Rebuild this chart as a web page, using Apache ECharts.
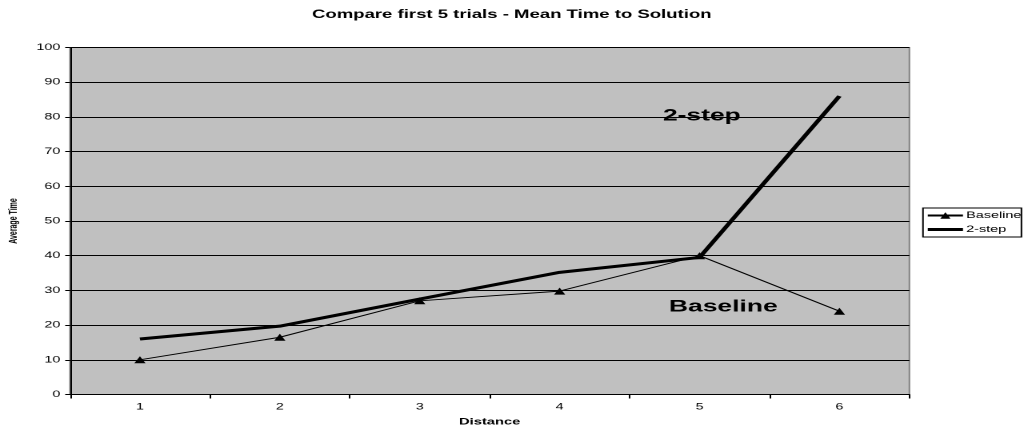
<!DOCTYPE html>
<html><head><meta charset="utf-8">
<script src="https://cdn.jsdelivr.net/npm/echarts@6/dist/echarts.min.js"></script>
<style>
html,body{margin:0;padding:0;background:#fff;overflow:hidden}
#c{width:644.375px;height:436px;transform:scaleX(1.6);transform-origin:0 0}
</style>
</head><body><div id="c"></div>
<script>
const categories = ['1','2','3','4','5','6'];
const baseline = [10, 16.5, 27, 29.8, 40, 24];
const twoStep = [16, 19.7, 27.5, 35.2, 39.5, 86];
const yTicks = {min: 0, max: 100, interval: 10};

const S = 1.6; // horizontal stretch of the original picture
const chart = echarts.init(document.getElementById('c'), null, {devicePixelRatio: 2});
const F = 'Arial, "Liberation Sans", sans-serif';
chart.setOption({
  animation: false,
  backgroundColor: '#ffffff',
  title: {
    text: 'Compare first 5 trials - Mean Time to Solution',
    left: 312 / S, top: 9, padding: 0,
    textStyle: {fontFamily: F, fontSize: 11.6, fontWeight: 'bold', color: '#000'}
  },
  grid: {
    left: 70 / S, right: 121 / S, top: 47.5, bottom: 41.5,
    containLabel: false, outerBoundsMode: 'none',
    show: true, backgroundColor: '#c0c0c0', borderColor: '#808080', borderWidth: 1
  },
  legend: {
    orient: 'vertical', left: 923 / S, top: 208,
    itemWidth: 22, itemHeight: 8, itemGap: 5,
    padding: [3, 0, 3, 2],
    borderColor: '#000', borderWidth: 1, backgroundColor: '#fff',
    textStyle: {fontFamily: F, fontSize: 9, color: '#000', padding: [0, 0, 0, -3]},
    data: [
      {name: 'Baseline'},
      {name: '2-step', icon: 'path://M0,0H22V3H0Z'}
    ]
  },
  xAxis: {
    type: 'category', data: categories, boundaryGap: true,
    name: 'Distance', nameLocation: 'middle', nameGap: 23,
    nameTextStyle: {fontFamily: F, fontSize: 9.2, fontWeight: 'bold', color: '#000'},
    axisLine: {show: true, lineStyle: {color: '#000', width: 1}},
    axisTick: {show: true, length: 4, lineStyle: {color: '#000'}},
    axisLabel: {fontFamily: F, fontSize: 9, color: '#000', margin: 8},
    splitLine: {show: false}
  },
  yAxis: {
    type: 'value', min: yTicks.min, max: yTicks.max, interval: yTicks.interval,
    name: 'Average Time', nameLocation: 'middle', nameGap: 31,
    nameTextStyle: {fontFamily: F, fontSize: 7, fontWeight: 'bold', color: '#000'},
    axisLine: {show: true, lineStyle: {color: '#000', width: 1}},
    axisTick: {show: true, length: 3, lineStyle: {color: '#000'}},
    axisLabel: {fontFamily: F, fontSize: 9, color: '#000', margin: 6},
    splitLine: {show: true, lineStyle: {color: '#000', width: 1}}
  },
  series: [
    {
      name: 'Baseline', type: 'line', data: baseline,
      symbol: 'triangle', symbolSize: 7,
      itemStyle: {color: '#000'},
      lineStyle: {color: '#000', width: 1}, z: 3
    },
    {
      name: '2-step', type: 'line', data: twoStep,
      symbol: 'none',
      itemStyle: {color: '#000'},
      lineStyle: {color: '#000', width: 3}, z: 4
    }
  ],
  graphic: [
    {type: 'text', x: 663 / S, y: 116, z: 10, style: {text: '2-step', fontFamily: F, fontSize: 16.5, fontWeight: 'bold', fill: '#000', textVerticalAlign: 'middle'}},
    {type: 'text', x: 669 / S, y: 307, z: 10, style: {text: 'Baseline', fontFamily: F, fontSize: 16.5, fontWeight: 'bold', fill: '#000', textVerticalAlign: 'middle'}}
  ]
});
</script></body></html>
